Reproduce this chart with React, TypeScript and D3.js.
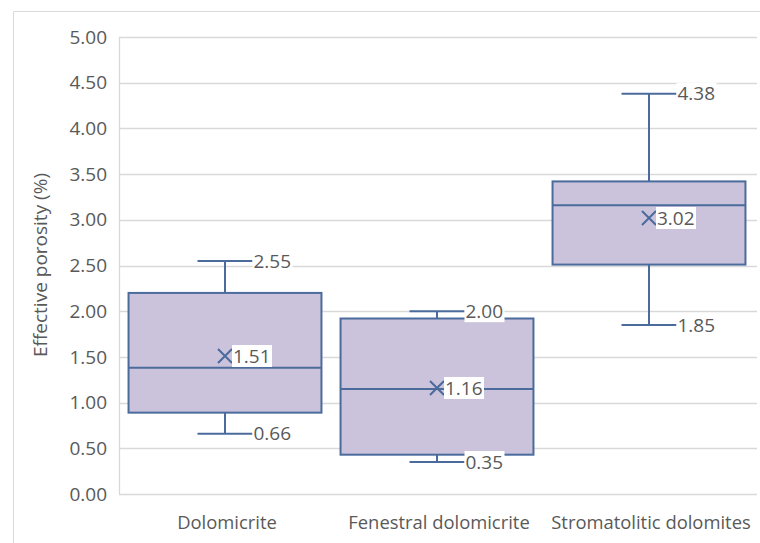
import React from "react";
import * as d3 from "d3";

const categories = ["Dolomicrite", "Fenestral dolomicrite", "Stromatolitic dolomites"];
const minValues = [0.66, 0.35, 1.85];
const q1Values = [0.89, 0.43, 2.51];
const medianValues = [1.38, 1.15, 3.16];
const q3Values = [2.2, 1.92, 3.42];
const maxValues = [2.55, 2.0, 4.38];
const meanValues = [1.51, 1.16, 3.02];
const yTicks = [0, 0.5, 1, 1.5, 2, 2.5, 3, 3.5, 4, 4.5, 5];
const yTitle = "Effective porosity (%)";

const W = 760;
const H = 543;
const FONT = "'Open Sans', sans-serif";
const TEXT = "#595959";
const FILL = "#cbc2dc";
const STROKE = "#4a6b9c";

export default function App() {
  const x = d3.scaleBand<string>().domain(categories).range([119, 755]).paddingInner(0).paddingOuter(0);
  const y = d3.scaleLinear().domain([0, 5]).range([494, 37]);
  const bw = x.bandwidth();
  const boxW = bw * 0.91;
  const capW = 55;
  const fmt = d3.format(".2f");
  const FS = 19;

  const label = (key: string, tx: number, ty: number, v: number, bg: boolean) => {
    const w = 40;
    return (
      <g key={key}>
        {bg && <rect x={tx} y={ty - 11} width={w} height={22} fill="#fff" />}
        <text x={tx + 1} y={ty} dy="0.35em" fontSize={FS} fill={TEXT} fontFamily={FONT}>
          {fmt(v)}
        </text>
      </g>
    );
  };

  return (
    <svg width={W} height={H} style={{ position: "absolute", left: 0, top: 0 }}>
      <rect x={0} y={0} width={W} height={H} fill="#fff" />
      <path d={`M13.5,${H}V11.5H${W}`} fill="none" stroke="#d9d9d9" strokeWidth={1} />
      {yTicks.map((t) => (
        <g key={t}>
          <line x1={119} x2={757} y1={Math.round(y(t)) + 0.5} y2={Math.round(y(t)) + 0.5} stroke="#d9d9d9" strokeWidth={1.3} />
          <text x={107} y={y(t)} dy="0.35em" textAnchor="end" fontSize={FS} fill={TEXT} fontFamily={FONT}>
            {fmt(t)}
          </text>
        </g>
      ))}
      <line x1={119.5} x2={119.5} y1={y(5)} y2={y(0)} stroke="#d9d9d9" strokeWidth={1.3} />
      <text
        transform={`translate(40,265) rotate(-90)`}
        textAnchor="middle"
        dy="0.35em"
        fontSize={19}
        fill={TEXT}
        fontFamily={FONT}
      >
        {yTitle}
      </text>
      {categories.map((c, i) => {
        const cx = (x(c) as number) + bw / 2;
        return (
          <text key={c} x={cx + 2} y={523} dy="0.35em" textAnchor="middle" fontSize={18.4} fill={TEXT} fontFamily={FONT}>
            {c}
          </text>
        );
      })}
      {categories.map((c, i) => {
        const cx = (x(c) as number) + bw / 2;
        const ms = 7;
        return (
          <g key={c}>
            <line x1={cx} x2={cx} y1={y(maxValues[i])} y2={y(q3Values[i])} stroke={STROKE} strokeWidth={2} />
            <line x1={cx} x2={cx} y1={y(q1Values[i])} y2={y(minValues[i])} stroke={STROKE} strokeWidth={2} />
            <line x1={cx - capW / 2} x2={cx + capW / 2} y1={y(maxValues[i])} y2={y(maxValues[i])} stroke={STROKE} strokeWidth={2} />
            <line x1={cx - capW / 2} x2={cx + capW / 2} y1={y(minValues[i])} y2={y(minValues[i])} stroke={STROKE} strokeWidth={2} />
            <rect
              x={cx - boxW / 2}
              y={y(q3Values[i])}
              width={boxW}
              height={y(q1Values[i]) - y(q3Values[i])}
              fill={FILL}
              stroke={STROKE}
              strokeWidth={2}
            />
            <line x1={cx - boxW / 2} x2={cx + boxW / 2} y1={y(medianValues[i])} y2={y(medianValues[i])} stroke={STROKE} strokeWidth={2} />
            <path
              d={`M${cx - ms},${y(meanValues[i]) - ms}L${cx + ms},${y(meanValues[i]) + ms}M${cx - ms},${y(meanValues[i]) + ms}L${cx + ms},${y(meanValues[i]) - ms}`}
              stroke={STROKE}
              strokeWidth={2}
              fill="none"
            />
          </g>
        );
      })}
      {categories.map((c, i) => {
        const cx = (x(c) as number) + bw / 2;
        return (
          <g key={c}>
            {label(c + "max", cx + capW / 2, y(maxValues[i]), maxValues[i], true)}
            {label(c + "min", cx + capW / 2, y(minValues[i]), minValues[i], true)}
            {label(c + "mean", cx + 7, y(meanValues[i]), meanValues[i], true)}
          </g>
        );
      })}
    </svg>
  );
}
